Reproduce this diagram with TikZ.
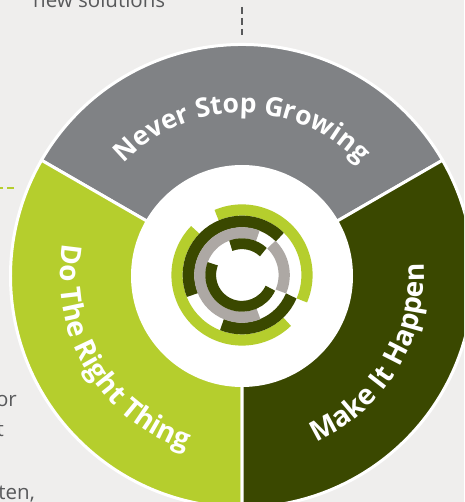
\documentclass[tikz,border=0pt]{standalone}
\usepackage{fontspec}
\setmainfont{Open Sans}
\usetikzlibrary{decorations.text}
\definecolor{bgpaper}{HTML}{EFEEED}
\definecolor{growgray}{HTML}{808285}
\definecolor{rightlime}{HTML}{B5CE2D}
\definecolor{makedark}{HTML}{3A4800}
\definecolor{ringgray}{HTML}{ADA8A4}
\definecolor{notegray}{HTML}{58595B}
\tikzset{
  wedge/.style={draw=white, line width=3pt},
  ringa/.style={line width=11.2pt, rightlime},
  ringb/.style={line width=11.7pt, makedark},
  ringc/.style={line width=11.2pt, ringgray},
  ringd/.style={line width=10.8pt, makedark},
  note/.style={text=notegray, font=\fontsize{20.5}{24}\selectfont, inner sep=0pt},
  dashline/.style={line width=1.5pt, dash pattern=on 7pt off 4pt}
}
\newcommand{\arclabel}[2]{|\fontsize{#1}{30}\selectfont\bfseries\color{white}|#2}
\begin{document}
\begin{tikzpicture}[x=1pt,y=1pt]
      \clip (-242,-226) rectangle (222,276);
      \fill[bgpaper] (-242,-226) rectangle (222,276);
      % the three segments
      \draw[wedge, fill=growgray] (0,0) -- (150:231.5) arc (150:30:231.5) -- cycle;
      \draw[wedge, fill=rightlime] (0,0) -- (270:231.5) arc (270:150:231.5) -- cycle;
      \draw[wedge, fill=makedark] (0,0) -- (30:231.5) arc (30:-90:231.5) -- cycle;
      \fill[white] (0,0) circle (111);
      % labels on the segments
      \path[decorate, decoration={text along path, text align=center,
        text={\arclabel{26.5}{Never Stop Growing}}}] (175:163) arc (175:5:163);
      \path[decorate, decoration={text along path, text align=center,
        text={\arclabel{28}{Do The Right Thing}}}] (121:182) arc (121:301:182);
      \path[decorate, decoration={text along path, text align=center,
        text={\arclabel{28}{Make It Happen}}}] (-121:182) arc (-121:59:182);
      % centre mark
      \begin{scope}[shift={(0,1)}]
      \draw[ringa] (113:65) arc (113:-23:65);
      \draw[ringa] (136:65) arc (136:314:65);
      \draw[ringb] (202:53.5) arc (202:45:53.5);
      \draw[ringb] (248:53.5) arc (248:337:53.5);
      \draw[ringc] (68:42.2) arc (68:293:42.2);
      \draw[ringc] (46:42.2) arc (46:-23:42.2);
      \draw[ringd] (111:31.3) arc (111:47:31.3);
      \draw[ringd] (159:31.3) arc (159:335:31.3);
      \end{scope}
      % dashes and cut off notes
      \coordinate (topa) at (0,269);
      \coordinate (topb) at (0,241);
      \coordinate (lefta) at (-242,88);
      \coordinate (leftb) at (-228,88);
      \draw[dashline, notegray] (topa) -- (topb);
      \draw[dashline, rightlime] (leftb) -- (lefta);
      \node[note, anchor=base west] (solutions) at (-209,268.5) {new solutions};
      \node[note, anchor=base east] (noteor) at (-225,-130) {or};
      \node[note, anchor=base east] (notet) at (-238,-160) {t};
      \node[note, anchor=base east] (noteten) at (-207,-223) {ten,};
\end{tikzpicture}
\end{document}
